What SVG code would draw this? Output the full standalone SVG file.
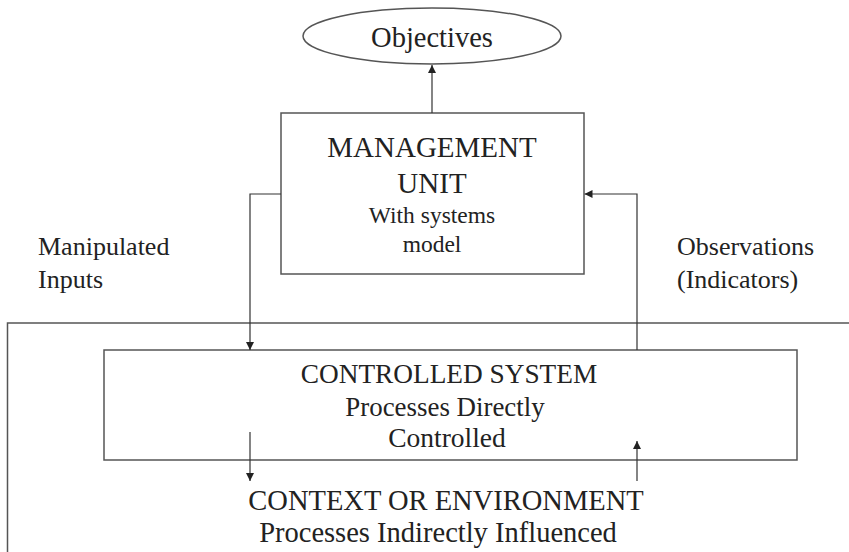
<svg xmlns="http://www.w3.org/2000/svg" width="849" height="552" viewBox="0 0 849 552">
<defs>
<marker id="ah" viewBox="0 0 10 10" refX="10" refY="5" markerWidth="8" markerHeight="8" markerUnits="userSpaceOnUse" orient="auto">
<path d="M0,0 L10,5 L0,10 z" fill="#222"/>
</marker>
<style>
.box{fill:#fff;stroke:#555;stroke-width:1.5}
.ln{fill:none;stroke:#333;stroke-width:1.2}
text{font-family:'Liberation Serif','Times New Roman',serif;fill:#222}
.t{text-anchor:middle}
.l{font-size:26px}
</style>
</defs>
<rect width="849" height="552" fill="#fff"/>
<g id="environment">
<path class="box" d="M7.5,552 V323 H849" fill="none"/>
<text class="t" x="446" y="510" font-size="28.5">CONTEXT OR ENVIRONMENT</text>
<text class="t" x="438" y="542" font-size="28.5">Processes Indirectly Influenced</text>
</g>
<g id="objectives">
<ellipse class="box" cx="432" cy="36" rx="129" ry="28"/>
<text class="t" x="432" y="47" font-size="28.5">Objectives</text>
</g>
<g id="management">
<rect class="box" x="281" y="113" width="303" height="161"/>
<text class="t" x="432" y="157" font-size="29">MANAGEMENT</text>
<text class="t" x="432" y="193" font-size="29">UNIT</text>
<text class="t" x="432" y="223" font-size="23.5">With systems</text>
<text class="t" x="432" y="252" font-size="23.5">model</text>
</g>
<g id="controlled">
<rect class="box" x="104" y="350" width="693" height="110"/>
<text class="t" x="449" y="383" font-size="27.3">CONTROLLED SYSTEM</text>
<text class="t" x="445" y="416" font-size="26.9">Processes Directly</text>
<text class="t" x="447" y="447" font-size="27.5">Controlled</text>
</g>
<g id="labels">
<text class="l" x="38" y="255">Manipulated</text>
<text class="l" x="38" y="288">Inputs</text>
<text class="l" x="677" y="255">Observations</text>
<text class="l" x="677" y="288">(Indicators)</text>
</g>
<g id="connectors">
<line class="ln" x1="432" y1="113" x2="432" y2="65" marker-end="url(#ah)"/>
<path class="ln" d="M281,194 H250 V350" marker-end="url(#ah)"/>
<path class="ln" d="M637,350 V194 H584.5" marker-end="url(#ah)"/>
<line class="ln" x1="250" y1="432" x2="250" y2="481" marker-end="url(#ah)"/>
<line class="ln" x1="637" y1="481" x2="637" y2="441" marker-end="url(#ah)"/>
</g>
</svg>
